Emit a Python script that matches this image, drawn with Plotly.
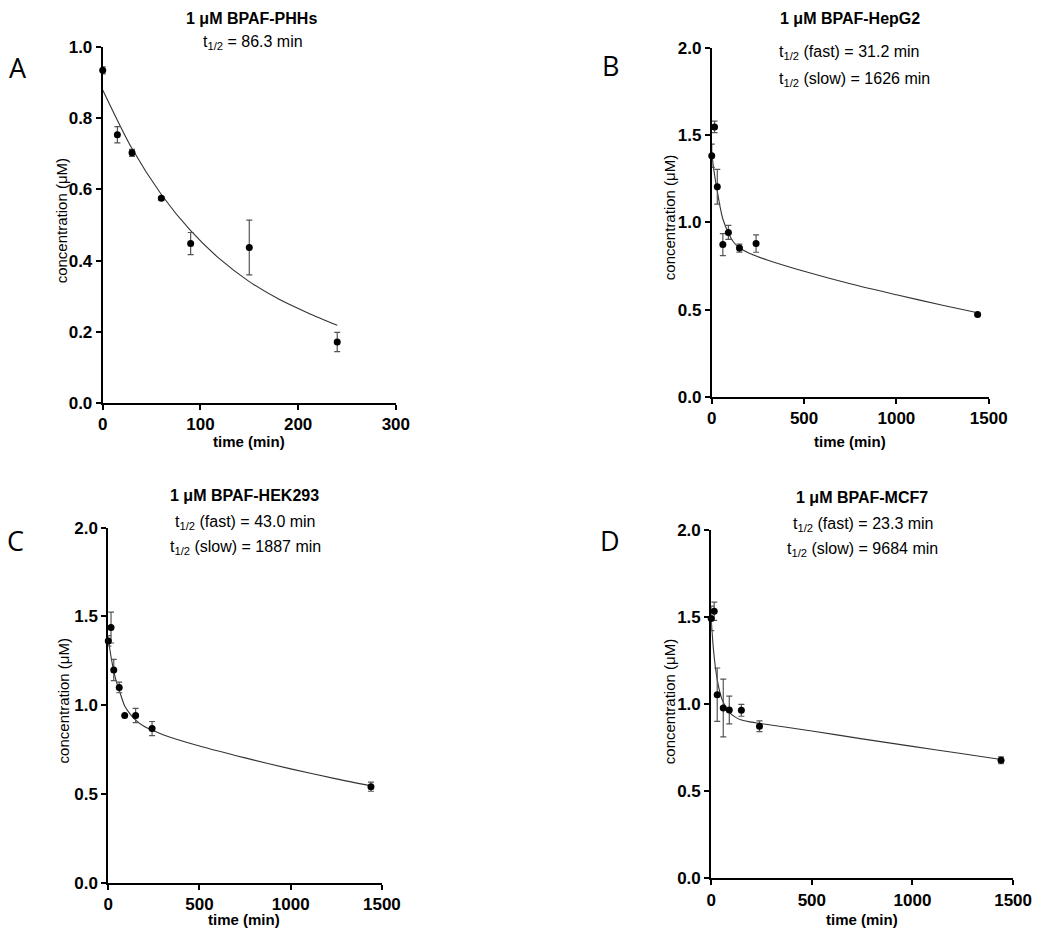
import plotly.graph_objects as go

# ---------------- data ----------------
time_a = [0, 15, 30, 60, 90, 150, 240]
conc_a = [0.935, 0.754, 0.703, 0.575, 0.448, 0.437, 0.171]
err_a = [0.010, 0.023, 0.010, 0.005, 0.031, 0.077, 0.027]
fit_time_a = [0, 30, 60, 90, 120, 150, 180, 210, 240]
fit_conc_a = [0.880, 0.715, 0.586, 0.484, 0.404, 0.341, 0.292, 0.253, 0.218]

time_b = [0, 15, 30, 60, 90, 150, 240, 1440]
conc_b = [1.383, 1.548, 1.205, 0.873, 0.943, 0.853, 0.879, 0.472]
err_b = [0.067, 0.033, 0.100, 0.063, 0.040, 0.023, 0.050, 0.0]
fit_time_b = [0, 10, 20, 30, 45, 60, 90, 120, 150, 200, 240, 300, 500, 750, 1000, 1250, 1440]
fit_conc_b = [1.40, 1.31, 1.24, 1.18, 1.09, 1.02, 0.94, 0.885, 0.855, 0.825, 0.808, 0.785,
              0.72, 0.648, 0.585, 0.525, 0.482]

time_c = [0, 15, 30, 60, 90, 150, 240, 1440]
conc_c = [1.362, 1.437, 1.198, 1.100, 0.942, 0.942, 0.868, 0.541]
err_c = [0.030, 0.087, 0.060, 0.030, 0.0, 0.040, 0.040, 0.026]
fit_time_c = [0, 10, 20, 30, 45, 60, 90, 120, 150, 200, 240, 300, 500, 750, 1000, 1250, 1440]
fit_conc_c = [1.375, 1.305, 1.244, 1.192, 1.13, 1.085, 0.995, 0.950, 0.916, 0.878, 0.860, 0.834,
              0.770, 0.703, 0.641, 0.585, 0.546]

time_d = [0, 15, 30, 60, 90, 150, 240, 1440]
conc_d = [1.492, 1.533, 1.054, 0.977, 0.966, 0.964, 0.872, 0.677]
err_d = [0.070, 0.052, 0.153, 0.166, 0.080, 0.034, 0.031, 0.020]
fit_time_d = [0, 10, 20, 30, 45, 60, 90, 120, 150, 200, 240, 500, 750, 1000, 1250, 1440]
fit_conc_d = [1.49, 1.33, 1.22, 1.14, 1.06, 1.01, 0.952, 0.925, 0.908, 0.896, 0.889, 0.845,
              0.80, 0.757, 0.714, 0.681]

titles = ["1 μM BPAF-PHHs", "1 μM BPAF-HepG2", "1 μM BPAF-HEK293", "1 μM BPAF-MCF7"]
panel_letters = ["A", "B", "C", "D"]
half_life_texts = [
    ["t<sub>1/2</sub> = 86.3 min"],
    ["t<sub>1/2</sub> (fast) = 31.2 min", "t<sub>1/2</sub> (slow) = 1626 min"],
    ["t<sub>1/2</sub> (fast) = 43.0 min", "t<sub>1/2</sub> (slow) = 1887 min"],
    ["t<sub>1/2</sub> (fast) = 23.3 min", "t<sub>1/2</sub> (slow) = 9684 min"],
]
x_ranges = [[0, 300], [0, 1500], [0, 1500], [0, 1500]]
x_dticks = [100, 500, 500, 500]
y_ranges = [[0, 1.0], [0, 2.0], [0, 2.0], [0, 2.0]]
y_dticks = [0.2, 0.5, 0.5, 0.5]

# ---------------- layout geometry ----------------
# the page body margin is removed (post_script), so the figure fills the 1050x942 window
W, H = 1050, 942
FONT = "Liberation Sans, Arial, sans-serif"


def fx(px):
    return px / W


def fy(py):
    return 1 - py / H


# plot areas in page pixels: (left, right, top, bottom)
areas = [
    (100, 400, 39, 402),
    (723.3, 1006.7, 40, 395.7),
    (105.7, 385.7, 529.3, 891.7),
    (722.7, 1031.7, 531.7, 887),
]

datasets = [
    (time_a, conc_a, err_a, fit_time_a, fit_conc_a),
    (time_b, conc_b, err_b, fit_time_b, fit_conc_b),
    (time_c, conc_c, err_c, fit_time_c, fit_conc_c),
    (time_d, conc_d, err_d, fit_time_d, fit_conc_d),
]

fig = go.Figure()
layout = dict(
    width=W, height=H, autosize=False,
    margin=dict(l=0, r=0, t=0, b=0),
    paper_bgcolor="white", plot_bgcolor="white",
    showlegend=False,
    font=dict(family=FONT, color="black", size=15),
)

for i, (t, c, e, ft, fc) in enumerate(datasets):
    n = "" if i == 0 else str(i + 1)
    xa, ya = "x" + n, "y" + n
    fig.add_trace(go.Scatter(
        x=ft, y=fc, xaxis=xa, yaxis=ya, mode="lines",
        line=dict(color="#333333", width=1.1, shape="spline", smoothing=0.8),
        hoverinfo="skip",
    ))
    fig.add_trace(go.Scatter(
        x=t, y=c, xaxis=xa, yaxis=ya, mode="markers",
        marker=dict(color="black", size=7),
        error_y=dict(type="data", array=e, visible=True, color="#555555",
                     thickness=1.2, width=3),
        cliponaxis=False,
    ))
    l, r, tp, b = areas[i]
    axis_common = dict(
        showline=True, linecolor="black", linewidth=2,
        ticks="outside", ticklen=5, tickwidth=2, tickcolor="black",
        showgrid=False, zeroline=False,
        tickfont=dict(family=FONT, size=17, color="black", weight="bold"),
        fixedrange=True,
    )
    layout["xaxis" + n] = dict(
        axis_common, domain=[fx(l), fx(r)], anchor=ya,
        range=x_ranges[i], tick0=0, dtick=x_dticks[i],
    )
    layout["yaxis" + n] = dict(
        axis_common, domain=[fy(b), fy(tp)], anchor=xa,
        range=y_ranges[i], tick0=0, dtick=y_dticks[i], tickformat=".1f",
    )

annotations = []


def add_text(text, x, y, size=15, bold=False, xanchor="center", angle=0, family=FONT):
    annotations.append(dict(
        text=text, x=fx(x), y=fy(y), xref="paper", yref="paper",
        xanchor=xanchor, yanchor="middle", showarrow=False, textangle=angle,
        font=dict(family=family, size=size, color="black",
                  weight="bold" if bold else "normal"),
    ))


# panel letters
letter_pos = [(13, 60), (620, 58), (11, 542), (619, 542)]
for letter, (x, y) in zip(panel_letters, letter_pos):
    add_text(letter, x, y, size=27, family="Open Sans, Noto Sans, sans-serif")

# titles
title_pos = [(252, 10), (865, 10), (245, 497), (877, 499)]
for ttl, (x, y) in zip(titles, title_pos):
    add_text(ttl, x, y, size=16, bold=True)

# half-life labels
add_text(half_life_texts[0][0], 254, 34, size=16)
add_text(half_life_texts[1][0], 790, 44, size=16, xanchor="left")
add_text(half_life_texts[1][1], 790, 72, size=16, xanchor="left")
add_text(half_life_texts[2][0], 246, 524, size=16)
add_text(half_life_texts[2][1], 246, 550, size=16)
add_text(half_life_texts[3][0], 879, 526, size=16)
add_text(half_life_texts[3][1], 878, 552, size=16)

# axis titles
ylab_pos = [(58, 216), (680, 213), (60, 706), (680, 707)]
for (x, y) in ylab_pos:
    add_text("concentration (μM)", x, y, size=15, angle=-90)
xlab_pos = [(250, 441), (865, 441), (245, 929), (877, 929)]
for (x, y) in xlab_pos:
    add_text("time (min)", x, y, size=15, bold=True)

layout["annotations"] = annotations
fig.update_layout(**layout)
fig.write_html(
    "out.html",
    config={"displayModeBar": False},
    post_script="document.body.style.margin='0';document.body.style.overflow='hidden';",
)
